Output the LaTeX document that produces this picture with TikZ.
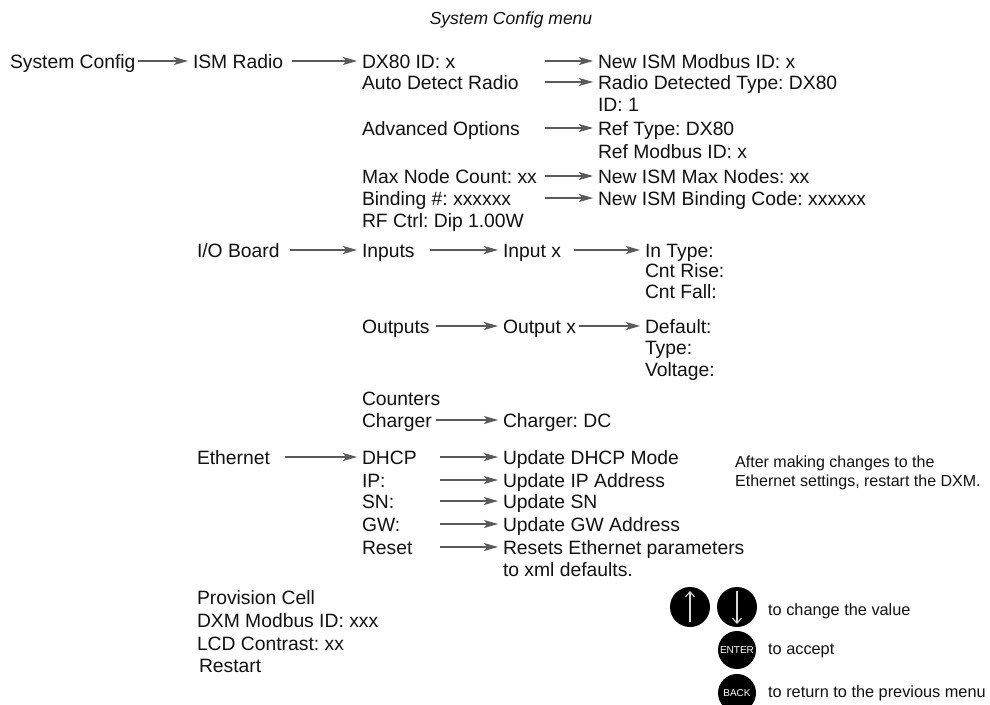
\documentclass[tikz,border=0pt]{standalone}
\usepackage{fontspec}
\setmainfont{Liberation Sans}
\usetikzlibrary{arrows.meta}
\definecolor{txt}{HTML}{111111}
\definecolor{arrgray}{HTML}{5A5A5A}
\definecolor{glyph}{HTML}{D8D8D8}
\begin{document}
\frenchspacing
\begin{tikzpicture}[x=1pt,y=-1pt,
  lbl/.style={inner xsep=0pt, inner ysep=0pt, outer sep=0pt, anchor=west,
    text height=18pt, text depth=4pt, font=\fontsize{19.3}{22}\selectfont\frenchspacing, text=txt},
  src/.style={lbl, execute at begin node={\hbox to #1\bgroup}, execute at end node={\hfil\egroup}},
  small/.style={inner sep=0pt, anchor=west, text height=14pt, text depth=3pt,
    font=\fontsize{16.3}{19}\selectfont, text=txt},
  note/.style={inner sep=0pt, anchor=west, text height=13pt, text depth=3pt,
    font=\fontsize{16}{19}\selectfont\frenchspacing, text=txt},
  arr/.style={draw=arrgray, line width=1.15pt,
    -{Stealth[length=14pt,width=8pt,inset=3pt]}, shorten >=5pt},
  btn/.style={circle, fill=black, inner sep=0pt, minimum size=#1},
  btxt/.style={text=white, font=\fontsize{10}{11}\selectfont},
  glyphline/.style={draw=glyph, line width=1.1pt, -{Straight Barb[length=5pt,width=9pt]}}
]
\useasboundingbox (0,0) rectangle (990,704);
\fill[white] (0,0) rectangle (990,704);

% title
\node[inner sep=0pt, text=txt, font=\fontsize{17.5}{20}\selectfont\itshape] (title) at (511,20) {System Config menu};

% ---- ISM Radio section
\node[src=128pt] (sys) at (10,61) {System Config};
\node[src=99pt] (ism) at (193,61) {ISM Radio};
\node[src=183pt] (dx) at (362,61) {DX80 ID: x};
\node[src=183pt] (auto) at (362,82) {Auto Detect Radio};
\node[src=183pt] (adv) at (362,128) {Advanced Options};
\node[src=183pt] (maxn) at (362,176) {Max Node Count: xx};
\node[src=183pt] (bind) at (362,198) {Binding \#: xxxxxx};
\node[lbl] (rf) at (362,220) {RF Ctrl: Dip 1.00W};

\node[lbl] (newid) at (598,61) {New ISM Modbus ID: x};
\node[lbl] (rdt) at (598,82) {Radio Detected Type: DX80};
\node[lbl] (id1) at (598,104) {ID: 1};
\node[lbl] (reft) at (598,128) {Ref Type: DX80};
\node[lbl] (refm) at (598,151) {Ref Modbus ID: x};
\node[lbl] (newmax) at (598,176) {New ISM Max Nodes: xx};
\node[lbl] (newbind) at (598,198) {New ISM Binding Code: xxxxxx};

\draw[arr] (sys.east) -- (ism.west);
\draw[arr] (ism.east) -- (dx.west);
\draw[arr] (dx.east) -- (newid.west);
\draw[arr] (auto.east) -- (rdt.west);
\draw[arr] (adv.east) -- (reft.west);
\draw[arr] (maxn.east) -- (newmax.west);
\draw[arr] (bind.east) -- (newbind.west);

% ---- I/O Board section
\node[src=93pt] (io) at (197,250) {I/O Board};
\node[src=68pt] (inp) at (362,250) {Inputs};
\node[src=71pt] (inx) at (503,250) {Input x};
\node[lbl] (intype) at (645,250) {In Type:};
\node[lbl] (crise) at (645,270) {Cnt Rise:};
\node[lbl] (cfall) at (645,291) {Cnt Fall:};
\node[src=74pt] (outp) at (362,326) {Outputs};
\node[src=76pt] (outx) at (503,326) {Output x};
\node[lbl] (deflt) at (645,326) {Default:};
\node[lbl] (otype) at (645,347) {Type:};
\node[lbl] (volt) at (645,369) {Voltage:};
\node[lbl] (cnt) at (362,398) {Counters};
\node[src=74pt] (chg) at (362,420) {Charger};
\node[lbl] (chgdc) at (503,420) {Charger: DC};

\draw[arr] (io.east) -- (inp.west);
\draw[arr] (inp.east) -- (inx.west);
\draw[arr] (inx.east) -- (intype.west);
\draw[arr] (outp.east) -- (outx.west);
\draw[arr] (outx.east) -- (deflt.west);
\draw[arr] (chg.east) -- (chgdc.west);

% ---- Ethernet section
\node[src=88pt] (eth) at (197,457) {Ethernet};
\node[src=78pt] (dhcp) at (362,457) {DHCP};
\node[src=78pt] (ip) at (362,480) {IP:};
\node[src=78pt] (sn) at (362,501) {SN:};
\node[src=78pt] (gw) at (362,524) {GW:};
\node[src=78pt] (rst) at (362,547) {Reset};
\node[lbl] (udhcp) at (503,457) {Update DHCP Mode};
\node[lbl] (uip) at (503,480) {Update IP Address};
\node[lbl] (usn) at (503,501) {Update SN};
\node[lbl] (ugw) at (503,524) {Update GW Address};
\node[lbl] (rsets) at (503,547) {Resets Ethernet parameters};
\node[lbl] (xmld) at (503,569) {to xml defaults.};

\draw[arr] (eth.east) -- (dhcp.west);
\draw[arr] (dhcp.east) -- (udhcp.west);
\draw[arr] (ip.east) -- (uip.west);
\draw[arr] (sn.east) -- (usn.west);
\draw[arr] (gw.east) -- (ugw.west);
\draw[arr] (rst.east) -- (rsets.west);

\node[note] (note1) at (735,462) {After making changes to the};
\node[note] (note2) at (735,481) {Ethernet settings, restart the DXM.};

% ---- bottom items
\node[lbl] (prov) at (197,597) {Provision Cell};
\node[lbl] (dxm) at (197,620) {DXM Modbus ID: xxx};
\node[lbl] (lcd) at (197,643) {LCD Contrast: xx};
\node[lbl] (restart) at (199,665) {Restart};

% ---- buttons legend
\node[btn=40pt] (up) at (690,607) {};
\node[btn=40pt] (down) at (737,607) {};
\draw[glyphline] ([yshift=-15pt]up.center) -- ([yshift=16pt]up.center);
\draw[glyphline] ([yshift=16pt]down.center) -- ([yshift=-17pt]down.center);
\node[btn=38pt, btxt] (enter) at (737,650) {ENTER};
\node[btn=38pt, btxt] (back) at (737,693) {BACK};
\node[small] (tchg) at (768,610) {to change the value};
\node[small] (tacc) at (768,649) {to accept};
\node[small] (tret) at (768,692) {to return to the previous menu};
\end{tikzpicture}
\end{document}
